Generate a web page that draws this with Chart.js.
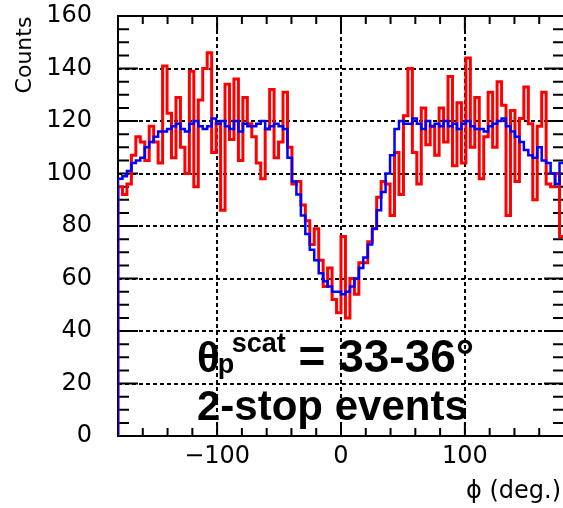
<!DOCTYPE html>
<html>
<head>
<meta charset="utf-8">
<title>phi distribution</title>
<script src="https://cdn.jsdelivr.net/npm/chart.js@4.4.1/dist/chart.umd.min.js"></script>
<style>
	html, body { margin: 0; padding: 0; background: #fff; overflow: hidden; }
	canvas { display: block; }
</style>
</head>
<body>
<canvas id="phiplot" width="566" height="508"></canvas>
<script>
// phi histogram, 100 bins of 3.6 deg between -180 and 180
var PHI_MIN = -180;
var PHI_MAX = 180;
var BIN_WIDTH = 3.6;

// measured counts (red)
var countsData = [
	95, 92, 96, 107, 114, 112, 105, 118, 112, 104,
	141, 123, 106, 129, 110, 100, 139, 95, 128, 140,
	146, 108, 119, 86, 134, 113, 136, 105, 129, 119,
	114, 104, 98, 117, 132, 106, 112, 131, 110, 96,
	97, 88, 82, 73, 79, 67, 57, 64, 52, 47,
	76, 45, 60, 54, 66, 66, 74, 79, 91, 97,
	96, 84, 108, 92, 122, 140, 108, 96, 125, 111,
	118, 107, 125, 112, 137, 103, 127, 104, 144, 110,
	129, 98, 114, 131, 110, 135, 126, 84, 124, 97,
	121, 133, 119, 90, 118, 131, 96, 95, 100, 76
];

// simulated counts (blue)
var countsSim = [
	98, 99, 101, 104, 105, 106, 110, 112, 114, 116,
	116, 117, 118, 119, 117, 116, 119, 120, 118, 117,
	118, 121, 119, 120, 118, 117, 120, 116, 119, 118,
	118, 119, 120, 117, 118, 119, 118, 117, 106, 97,
	92, 84, 77, 71, 67, 62, 59, 57, 55, 55,
	54, 55, 57, 60, 64, 68, 73, 79, 86, 93,
	100, 107, 117, 120, 119, 119, 121, 119, 117, 120,
	118, 119, 118, 120, 118, 119, 117, 119, 120, 118,
	117, 117, 116, 118, 119, 120, 121, 118, 116, 114,
	112, 109, 107, 106, 110, 105, 104, 100, 96, 104
];

var yTicks = [0, 20, 40, 60, 80, 100, 120, 140, 160];
var xTicks = [-100, 0, 100];

var tickFont = { family: "'DejaVu Sans', sans-serif", size: 24 };

// outline of a histogram: start on the baseline, one point per bin edge
function histPoints(counts) {
	var pts = [{ x: PHI_MIN, y: 0 }];
	for (var i = 0; i < counts.length; i++) {
		pts.push({ x: PHI_MIN + i * BIN_WIDTH, y: counts[i] });
	}
	pts.push({ x: PHI_MIN + counts.length * BIN_WIDTH, y: counts[counts.length - 1] });
	return pts;
}

// frame with inward ticks on all four sides
var frameTicks = {
	id: 'frameTicks',
	beforeDatasetsDraw: function(chart) {
		var ctx = chart.ctx;
		var a = chart.chartArea;
		var xs = chart.scales.x;
		var ys = chart.scales.y;
		ctx.save();
		ctx.strokeStyle = '#000';
		ctx.lineWidth = 2;
		ctx.beginPath();
		for (var v = 0; v <= 160; v += 5) {
			var py = ys.getPixelForValue(v);
			var len = (v % 20 === 0) ? 20 : 11;
			ctx.moveTo(a.left, py);
			ctx.lineTo(a.left + len, py);
			ctx.moveTo(a.right, py);
			ctx.lineTo(a.right - len, py);
		}
		for (var u = -180; u <= 180; u += 20) {
			var px = xs.getPixelForValue(u);
			var l2 = (u % 100 === 0) ? 14 : 8;
			ctx.moveTo(px, a.bottom);
			ctx.lineTo(px, a.bottom - l2);
			ctx.moveTo(px, a.top);
			ctx.lineTo(px, a.top + l2);
		}
		ctx.stroke();
		ctx.strokeRect(a.left, a.top, a.right - a.left, a.bottom - a.top);
		ctx.restore();
	},
	afterDraw: function(chart) {
		var ctx = chart.ctx;
		var a = chart.chartArea;
		ctx.save();
		ctx.fillStyle = '#000';

		// axis titles
		ctx.font = "24px 'DejaVu Sans', sans-serif";
		ctx.textBaseline = 'alphabetic';
		ctx.textAlign = 'right';
		ctx.fillText('\u03d5 (deg.)', a.right - 3, 498);
		ctx.font = "22px 'DejaVu Sans', sans-serif";
		ctx.translate(31, 55);
		ctx.rotate(-Math.PI / 2);
		ctx.textAlign = 'center';
		ctx.fillText('Counts', 0, 0);
		ctx.setTransform(1, 0, 0, 1, 0, 0);

		// selection label
		var x0 = 197;
		ctx.textAlign = 'left';
		ctx.font = "bold 42px 'Liberation Sans', Arial, sans-serif";
		ctx.fillText('\u03b8', x0, 372);
		var w = ctx.measureText('\u03b8').width;
		ctx.font = "bold 27px 'Liberation Sans', Arial, sans-serif";
		ctx.fillText('p', x0 + w - 2, 373);
		ctx.fillText('scat', x0 + w + 12, 352);
		var w2 = ctx.measureText('scat').width;
		ctx.font = "bold 46px 'Liberation Sans', Arial, sans-serif";
		ctx.fillText(' = 33-36\u00b0', x0 + w + 12 + w2, 372);
		ctx.font = "bold 42px 'Liberation Sans', Arial, sans-serif";
		ctx.fillText('2-stop events', x0, 420);
		ctx.restore();
	}
};

var ctx = document.getElementById('phiplot').getContext('2d');

var phiChart = new Chart(ctx, {
	type: 'line',
	data: {
		datasets: [
			{
				label: 'simulation',
				data: histPoints(countsSim),
				borderColor: '#0000ff',
				borderWidth: 2.5,
				stepped: true,
				pointRadius: 0,
				fill: false,
				order: 0
			},
			{
				label: 'data',
				data: histPoints(countsData),
				borderColor: '#ff0000',
				borderWidth: 3,
				stepped: true,
				pointRadius: 0,
				fill: false,
				order: 1
			}
		]
	},
	options: {
		responsive: false,
		animation: false,
		devicePixelRatio: 1,
		layout: { padding: { left: 0, right: 2, top: 16, bottom: 0 } },
		plugins: {
			legend: { display: false },
			tooltip: { enabled: false }
		},
		scales: {
			x: {
				type: 'linear',
				min: PHI_MIN,
				max: PHI_MAX,
				afterBuildTicks: function(scale) {
					scale.ticks = xTicks.map(function(v) { return { value: v }; });
				},
				afterFit: function(scale) {
					scale.height = 72;
					scale.paddingLeft = 0;
					scale.paddingRight = 0;
				},
				ticks: {
					color: '#000',
					font: tickFont,
					padding: 6,
					maxRotation: 0,
					callback: function(v) { return v < 0 ? '\u2212' + Math.abs(v) : String(v); }
				},
				grid: { color: '#000', lineWidth: 2, drawTicks: false },
				border: { display: false, dash: [4, 3] }
			},
			y: {
				min: 0,
				max: 160,
				afterBuildTicks: function(scale) {
					scale.ticks = yTicks.map(function(v) { return { value: v }; });
				},
				afterFit: function(scale) {
					scale.width = 118;
					scale.paddingTop = 0;
					scale.paddingBottom = 0;
				},
				ticks: {
					color: '#000',
					font: tickFont,
					padding: 26
				},
				grid: { color: '#000', lineWidth: 2, drawTicks: false },
				border: { display: false, dash: [4, 3] }
			}
		}
	},
	plugins: [frameTicks]
});
</script>
</body>
</html>
